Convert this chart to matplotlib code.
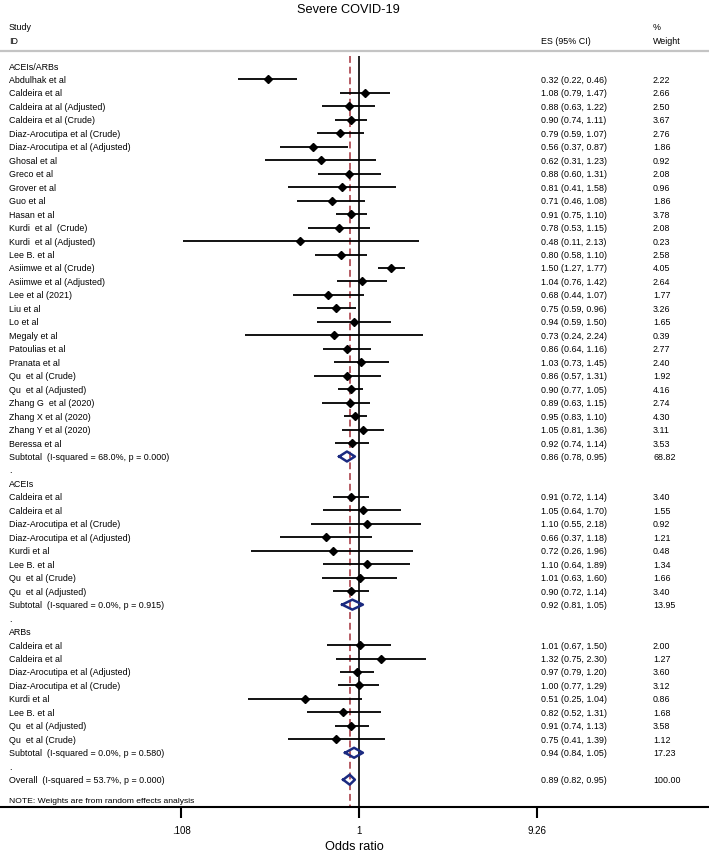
import numpy as np
import matplotlib
matplotlib.use("Agg")
import matplotlib.pyplot as plt
import matplotlib.transforms as mtransforms

plt.rcParams["font.family"] = ["Liberation Sans", "DejaVu Sans"]

# ----------------- 数据 -----------------
GROUP_NAMES = ["ACEIs/ARBs", "ACEIs", "ARBs"]

G1_STUDY = [
    "Abdulhak et al", "Caldeira et al", "Caldeira at al (Adjusted)", "Caldeira et al (Crude)",
    "Diaz-Arocutipa et al (Crude)", "Diaz-Arocutipa et al (Adjusted)", "Ghosal et al", "Greco et al",
    "Grover et al", "Guo et al", "Hasan et al", "Kurdi  et al  (Crude)", "Kurdi  et al (Adjusted)",
    "Lee B. et al", "Asiimwe et al (Crude)", "Asiimwe et al (Adjusted)", "Lee et al (2021)",
    "Liu et al", "Lo et al", "Megaly et al", "Patoulias et al", "Pranata et al",
    "Qu  et al (Crude)", "Qu  et al (Adjusted)", "Zhang G  et al (2020)", "Zhang X et al (2020)",
    "Zhang Y et al (2020)", "Beressa et al",
]
G1_ES = [0.32, 1.08, 0.88, 0.90, 0.79, 0.56, 0.62, 0.88, 0.81, 0.71, 0.91, 0.78, 0.48, 0.80,
         1.50, 1.04, 0.68, 0.75, 0.94, 0.73, 0.86, 1.03, 0.86, 0.90, 0.89, 0.95, 1.05, 0.92]
G1_LO = [0.22, 0.79, 0.63, 0.74, 0.59, 0.37, 0.31, 0.60, 0.41, 0.46, 0.75, 0.53, 0.11, 0.58,
         1.27, 0.76, 0.44, 0.59, 0.59, 0.24, 0.64, 0.73, 0.57, 0.77, 0.63, 0.83, 0.81, 0.74]
G1_HI = [0.46, 1.47, 1.22, 1.11, 1.07, 0.87, 1.23, 1.31, 1.58, 1.08, 1.10, 1.15, 2.13, 1.10,
         1.77, 1.42, 1.07, 0.96, 1.50, 2.24, 1.16, 1.45, 1.31, 1.05, 1.15, 1.10, 1.36, 1.14]
G1_WT = [2.22, 2.66, 2.50, 3.67, 2.76, 1.86, 0.92, 2.08, 0.96, 1.86, 3.78, 2.08, 0.23, 2.58,
         4.05, 2.64, 1.77, 3.26, 1.65, 0.39, 2.77, 2.40, 1.92, 4.16, 2.74, 4.30, 3.11, 3.53]

G2_STUDY = [
    "Caldeira et al", "Caldeira et al", "Diaz-Arocutipa et al (Crude)", "Diaz-Arocutipa et al (Adjusted)",
    "Kurdi et al", "Lee B. et al", "Qu  et al (Crude)", "Qu  et al (Adjusted)",
]
G2_ES = [0.91, 1.05, 1.10, 0.66, 0.72, 1.10, 1.01, 0.90]
G2_LO = [0.72, 0.64, 0.55, 0.37, 0.26, 0.64, 0.63, 0.72]
G2_HI = [1.14, 1.70, 2.18, 1.18, 1.96, 1.89, 1.60, 1.14]
G2_WT = [3.40, 1.55, 0.92, 1.21, 0.48, 1.34, 1.66, 3.40]

G3_STUDY = [
    "Caldeira et al", "Caldeira et al", "Diaz-Arocutipa et al (Adjusted)", "Diaz-Arocutipa et al (Crude)",
    "Kurdi et al", "Lee B. et al", "Qu  et al (Adjusted)", "Qu  et al (Crude)",
]
G3_ES = [1.01, 1.32, 0.97, 1.00, 0.51, 0.82, 0.91, 0.75]
G3_LO = [0.67, 0.75, 0.79, 0.77, 0.25, 0.52, 0.74, 0.41]
G3_HI = [1.50, 2.30, 1.20, 1.29, 1.04, 1.31, 1.13, 1.39]
G3_WT = [2.00, 1.27, 3.60, 3.12, 0.86, 1.68, 3.58, 1.12]

# 亚组合并结果
SUB_LABEL = ["Subtotal  (I-squared = 68.0%, p = 0.000)",
             "Subtotal  (I-squared = 0.0%, p = 0.915)",
             "Subtotal  (I-squared = 0.0%, p = 0.580)"]
SUB_ES = [0.86, 0.92, 0.94]
SUB_LO = [0.78, 0.81, 0.84]
SUB_HI = [0.95, 1.05, 1.05]
SUB_WT = [68.82, 13.95, 17.23]

OVERALL_LABEL = "Overall  (I-squared = 53.7%, p = 0.000)"
OVERALL_ES, OVERALL_LO, OVERALL_HI, OVERALL_WT = 0.89, 0.82, 0.95, 100.00

X_TICKS = [0.108, 1, 9.26]
X_TICK_LABELS = [".108", "1", "9.26"]

# ----------------- 布局 -----------------
W, H = 709, 854
X1_PX = 359.0        # OR = 1 的位置
PX_PER_LN = 79.9
AXIS_PX = 807.7
ROW0_PX = 67.0
ROW_PX = 13.466

FS = 6.4
NAVY = "#1b2a80"
DARKRED = "#a3303a"

fig = plt.figure(figsize=(W / 100, H / 100), dpi=100)
ax = fig.add_axes([0, 1 - AXIS_PX / H, 1, AXIS_PX / H])
ax.set_xscale("log")
ax.set_xlim(np.exp(-X1_PX / PX_PER_LN), np.exp((W - X1_PX) / PX_PER_LN))
n_rows_bottom = (AXIS_PX - ROW0_PX) / ROW_PX
ax.set_ylim(n_rows_bottom, -ROW0_PX / ROW_PX)

tr = mtransforms.blended_transform_factory(fig.transFigure, ax.transData)
X_LABEL = 9 / W
X_ES = 541 / W
X_WT = 653 / W


def row_y(px):
    return (px - ROW0_PX) / ROW_PX


def draw_study(y, name, es, lo, hi, wt):
    ax.plot([lo, hi], [y, y], color="black", lw=1.3, solid_capstyle="butt", zorder=3)
    ax.plot([es], [y], marker="D", ms=3.7, color="black", zorder=4)
    ax.text(X_LABEL, y, name, transform=tr, fontsize=FS, va="center", ha="left")
    ax.text(X_ES, y, f"{es:.2f} ({lo:.2f}, {hi:.2f})", transform=tr, fontsize=FS, va="center")
    ax.text(X_WT, y, f"{wt:.2f}", transform=tr, fontsize=FS, va="center")


def draw_pooled(y, name, es, lo, hi, wt):
    h = 0.37
    ax.plot([lo, es, hi, es, lo], [y, y - h, y, y + h, y], color=NAVY, lw=1.8, zorder=4)
    ax.text(X_LABEL, y, name, transform=tr, fontsize=FS, va="center")
    ax.text(X_ES, y, f"{es:.2f} ({lo:.2f}, {hi:.2f})", transform=tr, fontsize=FS, va="center")
    ax.text(X_WT, y, f"{wt:.2f}", transform=tr, fontsize=FS, va="center")


groups = [
    (G1_STUDY, G1_ES, G1_LO, G1_HI, G1_WT),
    (G2_STUDY, G2_ES, G2_LO, G2_HI, G2_WT),
    (G3_STUDY, G3_ES, G3_LO, G3_HI, G3_WT),
]

y = 0
for gi, (names, es, lo, hi, wt) in enumerate(groups):
    ax.text(X_LABEL, y, GROUP_NAMES[gi], transform=tr, fontsize=FS, va="center")
    y += 1
    for k in range(len(names)):
        draw_study(y, names[k], es[k], lo[k], hi[k], wt[k])
        y += 1
    draw_pooled(y, SUB_LABEL[gi], SUB_ES[gi], SUB_LO[gi], SUB_HI[gi], SUB_WT[gi])
    y += 1
    ax.text(X_LABEL, y, ".", transform=tr, fontsize=FS, va="center")
    y += 1

draw_pooled(y, OVERALL_LABEL, OVERALL_ES, OVERALL_LO, OVERALL_HI, OVERALL_WT)
ax.text(X_LABEL, row_y(801.7), "NOTE: Weights are from random effects analysis",
        transform=tr, fontsize=FS - 0.3, va="center")

# 参考线
top = row_y(57)
ax.vlines(1, top, n_rows_bottom, color="black", lw=1.2, zorder=2)
ax.vlines(OVERALL_ES, top, n_rows_bottom, color=DARKRED, lw=1.1,
          linestyles=(0, (4.5, 2.5)), zorder=2)
ax.axhline(row_y(52), color="#c4c4c4", lw=1.6)

# 表头
ax.text(X_LABEL, row_y(27), "Study", transform=tr, fontsize=FS, va="center")
ax.text(X_LABEL, row_y(41), "ID", transform=tr, fontsize=FS, va="center")
ax.text(X_ES, row_y(41), "ES (95% CI)", transform=tr, fontsize=FS, va="center")
ax.text(X_WT, row_y(27), "%", transform=tr, fontsize=FS, va="center")
ax.text(X_WT, row_y(41), "Weight", transform=tr, fontsize=FS, va="center")
ax.text(348 / W, row_y(10), "Severe COVID-19", transform=tr, fontsize=9.2, va="center", ha="center")

# 坐标轴
for side in ["top", "left", "right"]:
    ax.spines[side].set_visible(False)
ax.spines["bottom"].set_linewidth(1.5)
ax.set_yticks([])
ax.set_xticks(X_TICKS)
ax.set_xticklabels(X_TICK_LABELS)
ax.minorticks_off()
ax.tick_params(axis="x", length=8, width=1.5, pad=5, labelsize=7)
ax.set_xlabel("Odds ratio", fontsize=9.2, labelpad=3.5)

fig.savefig("out.png", dpi=100)
